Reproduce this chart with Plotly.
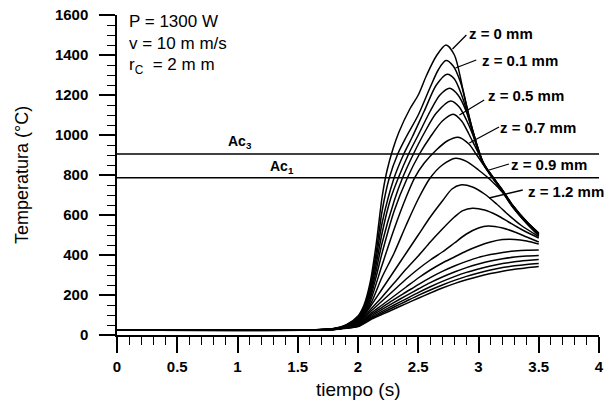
import plotly.graph_objects as go

# ---------------- data ----------------
t_c01 = [0, 1.6, 1.8, 1.9, 2.0, 2.05, 2.1, 2.15, 2.2, 2.24, 2.29, 2.34, 2.43, 2.5, 2.57, 2.65, 2.73, 2.8, 2.87, 2.92, 2.98, 3.04, 3.1, 3.2, 3.28, 3.4, 3.5]
T_c01 = [25, 25, 32, 50, 95, 150, 260, 450, 690, 820, 930, 1015, 1130, 1200, 1300, 1395, 1450, 1400, 1230, 1095, 965, 862, 806, 724, 652, 567, 510]

t_c02 = [0, 1.6, 1.8, 1.9, 2.0, 2.05, 2.1, 2.15, 2.2, 2.26, 2.33, 2.4, 2.5, 2.6, 2.67, 2.73, 2.79, 2.85, 2.9, 2.95, 3.0, 3.04, 3.1, 3.2, 3.28, 3.4, 3.5]
T_c02 = [25, 25, 32, 49, 88, 140, 240, 410, 620, 786, 905, 990, 1100, 1240, 1330, 1372, 1345, 1265, 1150, 1025, 925, 860, 805, 723, 651, 566, 508]

t_c03 = [0, 1.6, 1.8, 1.9, 2.0, 2.05, 2.1, 2.15, 2.2, 2.3, 2.38, 2.45, 2.55, 2.65, 2.74, 2.8, 2.86, 2.92, 2.96, 3.0, 3.04, 3.1, 3.2, 3.28, 3.4, 3.5]
T_c03 = [25, 25, 31, 47, 84, 130, 225, 380, 560, 786, 905, 990, 1120, 1250, 1304, 1280, 1200, 1085, 1005, 922, 858, 804, 722, 650, 565, 506]

t_c04 = [0, 1.6, 1.8, 1.9, 2.0, 2.05, 2.1, 2.15, 2.2, 2.27, 2.335, 2.42, 2.5, 2.6, 2.68, 2.76, 2.83, 2.9, 2.95, 3.0, 3.04, 3.1, 3.2, 3.28, 3.4, 3.5]
T_c04 = [25, 25, 31, 46, 80, 125, 210, 350, 510, 680, 786, 905, 1000, 1120, 1200, 1234, 1200, 1115, 1015, 920, 857, 803, 721, 649, 564, 505]

t_c05 = [0, 1.6, 1.8, 1.9, 2.0, 2.05, 2.1, 2.15, 2.2, 2.3, 2.37, 2.46, 2.55, 2.65, 2.77, 2.84, 2.9, 2.95, 3.0, 3.04, 3.1, 3.2, 3.28, 3.4, 3.5]
T_c05 = [25, 25, 31, 45, 76, 118, 195, 320, 460, 670, 786, 905, 1010, 1110, 1170, 1140, 1075, 1005, 918, 855, 802, 720, 648, 563, 503]

t_c06 = [0, 1.6, 1.8, 1.9, 2.0, 2.05, 2.1, 2.15, 2.2, 2.3, 2.41, 2.51, 2.6, 2.7, 2.79, 2.86, 2.92, 2.97, 3.02, 3.06, 3.1, 3.2, 3.28, 3.4, 3.5]
T_c06 = [25, 25, 30, 44, 72, 110, 180, 290, 410, 620, 786, 905, 990, 1070, 1104, 1070, 1005, 945, 885, 838, 800, 718, 646, 561, 501]

t_c07 = [0, 1.6, 1.8, 1.9, 2.0, 2.05, 2.1, 2.2, 2.3, 2.4, 2.47, 2.55, 2.65, 2.74, 2.83, 2.92, 2.98, 3.04, 3.1, 3.2, 3.28, 3.4, 3.5]
T_c07 = [25, 25, 30, 43, 68, 102, 165, 350, 530, 690, 786, 860, 925, 970, 989, 955, 905, 852, 798, 716, 644, 559, 499]

t_c08 = [0, 1.6, 1.8, 1.9, 2.0, 2.1, 2.2, 2.3, 2.4, 2.5, 2.6, 2.7, 2.81, 2.9, 3.0, 3.1, 3.2, 3.28, 3.4, 3.5]
T_c08 = [25, 25, 30, 42, 64, 150, 290, 410, 550, 680, 786, 850, 884, 868, 825, 775, 712, 642, 557, 496]

t_c09 = [0, 1.6, 1.8, 1.9, 2.0, 2.1, 2.2, 2.3, 2.4, 2.5, 2.6, 2.7, 2.78, 2.85, 2.95, 3.05, 3.15, 3.25, 3.35, 3.5]
T_c09 = [25, 25, 30, 41, 60, 140, 230, 320, 410, 500, 590, 670, 730, 750, 740, 705, 655, 600, 550, 492]

t_c10 = [0, 1.6, 1.8, 1.9, 2.0, 2.1, 2.2, 2.3, 2.4, 2.5, 2.6, 2.7, 2.8, 2.87, 2.95, 3.05, 3.15, 3.25, 3.35, 3.5]
T_c10 = [25, 25, 29, 40, 58, 125, 190, 260, 330, 395, 465, 530, 590, 622, 634, 625, 600, 565, 530, 485]

t_c11 = [0, 1.6, 1.8, 1.9, 2.0, 2.1, 2.2, 2.3, 2.4, 2.5, 2.6, 2.7, 2.8, 2.9, 3.0, 3.08, 3.2, 3.3, 3.4, 3.5]
T_c11 = [25, 25, 29, 39, 55, 115, 170, 225, 280, 330, 375, 415, 460, 505, 535, 545, 535, 515, 490, 465]

t_grid = [0, 1.6, 1.8, 1.9, 2.0, 2.1, 2.2, 2.3, 2.4, 2.5, 2.6, 2.7, 2.8, 2.9, 3.0, 3.1, 3.2, 3.3, 3.4, 3.5]
T_c12 = [25, 25, 29, 38, 52, 105, 150, 195, 240, 285, 325, 360, 390, 420, 445, 465, 477, 478, 470, 455]
T_c13 = [25, 25, 28, 37, 50, 98, 138, 178, 215, 252, 287, 318, 345, 368, 388, 402, 413, 420, 424, 425]
T_c14 = [25, 25, 28, 36, 48, 92, 128, 163, 197, 230, 262, 290, 315, 337, 355, 370, 381, 390, 395, 398]
T_c15 = [25, 25, 28, 35, 46, 86, 118, 150, 181, 212, 241, 268, 292, 313, 330, 345, 357, 366, 372, 377]
T_c16 = [25, 25, 28, 35, 44, 80, 110, 140, 169, 198, 225, 250, 273, 293, 310, 325, 337, 346, 353, 358]
T_c17 = [25, 25, 27, 34, 42, 75, 103, 130, 157, 184, 210, 235, 257, 276, 293, 307, 319, 329, 336, 342]

ac3_temp = 905
ac1_temp = 786
x_range = [0, 4]
y_range = [0, 1600]

curve_labels = ["z = 0 mm", "z = 0.1 mm", "z = 0.5 mm", "z = 0.7 mm", "z = 0.9 mm", "z = 1.2 mm"]
param_lines = ["P = 1300 W", "v = 10 m m/s", "r<sub>C</sub>  = 2 m m"]

# ---------------- figure ----------------
W, H = 609, 403
ML, MR, MT, MB = 117, 5, 15, 68
PW, PH = W - ML - MR, H - MT - MB

def px_to_data(x_px, y_px):
    tx = x_range[0] + (x_px - ML) / PW * (x_range[1] - x_range[0])
    ty = y_range[0] + (MT + PH - y_px) / PH * (y_range[1] - y_range[0])
    return tx, ty

FONT = "Liberation Sans, Arial, Helvetica, sans-serif"
fig = go.Figure()

curves = [
    (t_c01, T_c01), (t_c02, T_c02), (t_c03, T_c03), (t_c04, T_c04), (t_c05, T_c05),
    (t_c06, T_c06), (t_c07, T_c07), (t_c08, T_c08), (t_c09, T_c09), (t_c10, T_c10),
    (t_c11, T_c11), (t_grid, T_c12), (t_grid, T_c13), (t_grid, T_c14), (t_grid, T_c15),
    (t_grid, T_c16), (t_grid, T_c17),
]
for tx, ty in curves:
    fig.add_trace(go.Scatter(x=tx, y=ty, mode="lines",
                             line=dict(color="black", width=1.5, shape="spline", smoothing=0.8),
                             showlegend=False, hoverinfo="skip"))

for level in (ac3_temp, ac1_temp):
    fig.add_trace(go.Scatter(x=x_range, y=[level, level], mode="lines",
                             line=dict(color="black", width=1.5),
                             showlegend=False, hoverinfo="skip"))

annotations = []
shapes = []

# curve labels with leader lines (pixel positions of leader start/end and text start)
leaders = [
    ((456, 49), (470, 35), (471, 33)),
    ((459, 68), (480, 60), (484, 60)),
    ((463, 115), (488, 100), (490, 95)),
    ((473, 143), (503, 127), (502, 127)),
    ((493, 170), (513, 164), (513, 164)),
    ((493, 198), (527, 190), (530, 191)),
]
for lab, (p0, p1, pt) in zip(curve_labels, leaders):
    x0, y0 = px_to_data(*p0)
    x1, y1 = px_to_data(*p1)
    shapes.append(dict(type="line", xref="x", yref="y", x0=x0, y0=y0, x1=x1, y1=y1,
                       line=dict(color="black", width=1.3)))
    tx, ty = px_to_data(*pt)
    annotations.append(dict(x=tx, y=ty, xref="x", yref="y", text="<b>" + lab + "</b>", showarrow=False,
                            xanchor="left", yanchor="middle",
                            font=dict(family=FONT, size=15, color="black")))

# Ac labels
for txt, pos in (("<b>Ac<sub>3</sub></b>", (241, 142)), ("<b>Ac<sub>1</sub></b>", (284, 167))):
    tx, ty = px_to_data(*pos)
    annotations.append(dict(x=tx, y=ty, xref="x", yref="y", text=txt, showarrow=False,
                            xanchor="center", yanchor="middle",
                            font=dict(family=FONT, size=14, color="black")))

# parameter block
for i, line in enumerate(param_lines):
    tx, ty = px_to_data(127, 21 + i * 22.5)
    annotations.append(dict(x=tx, y=ty, xref="x", yref="y", text=line, showarrow=False,
                            xanchor="left", yanchor="middle",
                            font=dict(family=FONT, size=17, color="black")))

# axis titles
annotations.append(dict(x=(21 - ML) / PW, y=0.5, xref="paper", yref="paper",
                        text="Temperatura (°C)", textangle=-90, showarrow=False,
                        xanchor="center", yanchor="middle",
                        font=dict(family=FONT, size=18, color="black")))
annotations.append(dict(x=0.5, y=-(377 - (MT + PH)) / PH, xref="paper", yref="paper",
                        text="tiempo (s)", showarrow=False,
                        xanchor="center", yanchor="top",
                        font=dict(family=FONT, size=19, color="black")))

fig.update_layout(
    width=W, height=H,
    margin=dict(l=ML, r=MR, t=MT, b=MB, pad=0),
    paper_bgcolor="white", plot_bgcolor="white",
    showlegend=False,
    annotations=annotations, shapes=shapes,
    font=dict(family=FONT, color="black"),
)
fig.update_xaxes(range=x_range, showgrid=False, zeroline=False,
                 showline=True, linecolor="black", linewidth=1.5,
                 ticks="outside", ticklen=16, tickwidth=1.5, tickcolor="black",
                 tickmode="linear", tick0=0, dtick=0.5,
                 minor=dict(ticks="outside", ticklen=8, tickwidth=1.3, tickcolor="black", dtick=0.1),
                 tickfont=dict(family=FONT, size=15, color="black", weight="bold"),
                 ticklabelstandoff=1)
fig.update_yaxes(range=y_range, showgrid=False, zeroline=False,
                 showline=True, linecolor="black", linewidth=1.5,
                 ticks="outside", ticklen=16, tickwidth=1.5, tickcolor="black",
                 tickmode="linear", tick0=0, dtick=200,
                 minor=dict(ticks="outside", ticklen=8, tickwidth=1.3, tickcolor="black", dtick=50),
                 tickfont=dict(family=FONT, size=15, color="black", weight="bold"),
                 ticklabelstandoff=8)

fig.write_html("out.html")
